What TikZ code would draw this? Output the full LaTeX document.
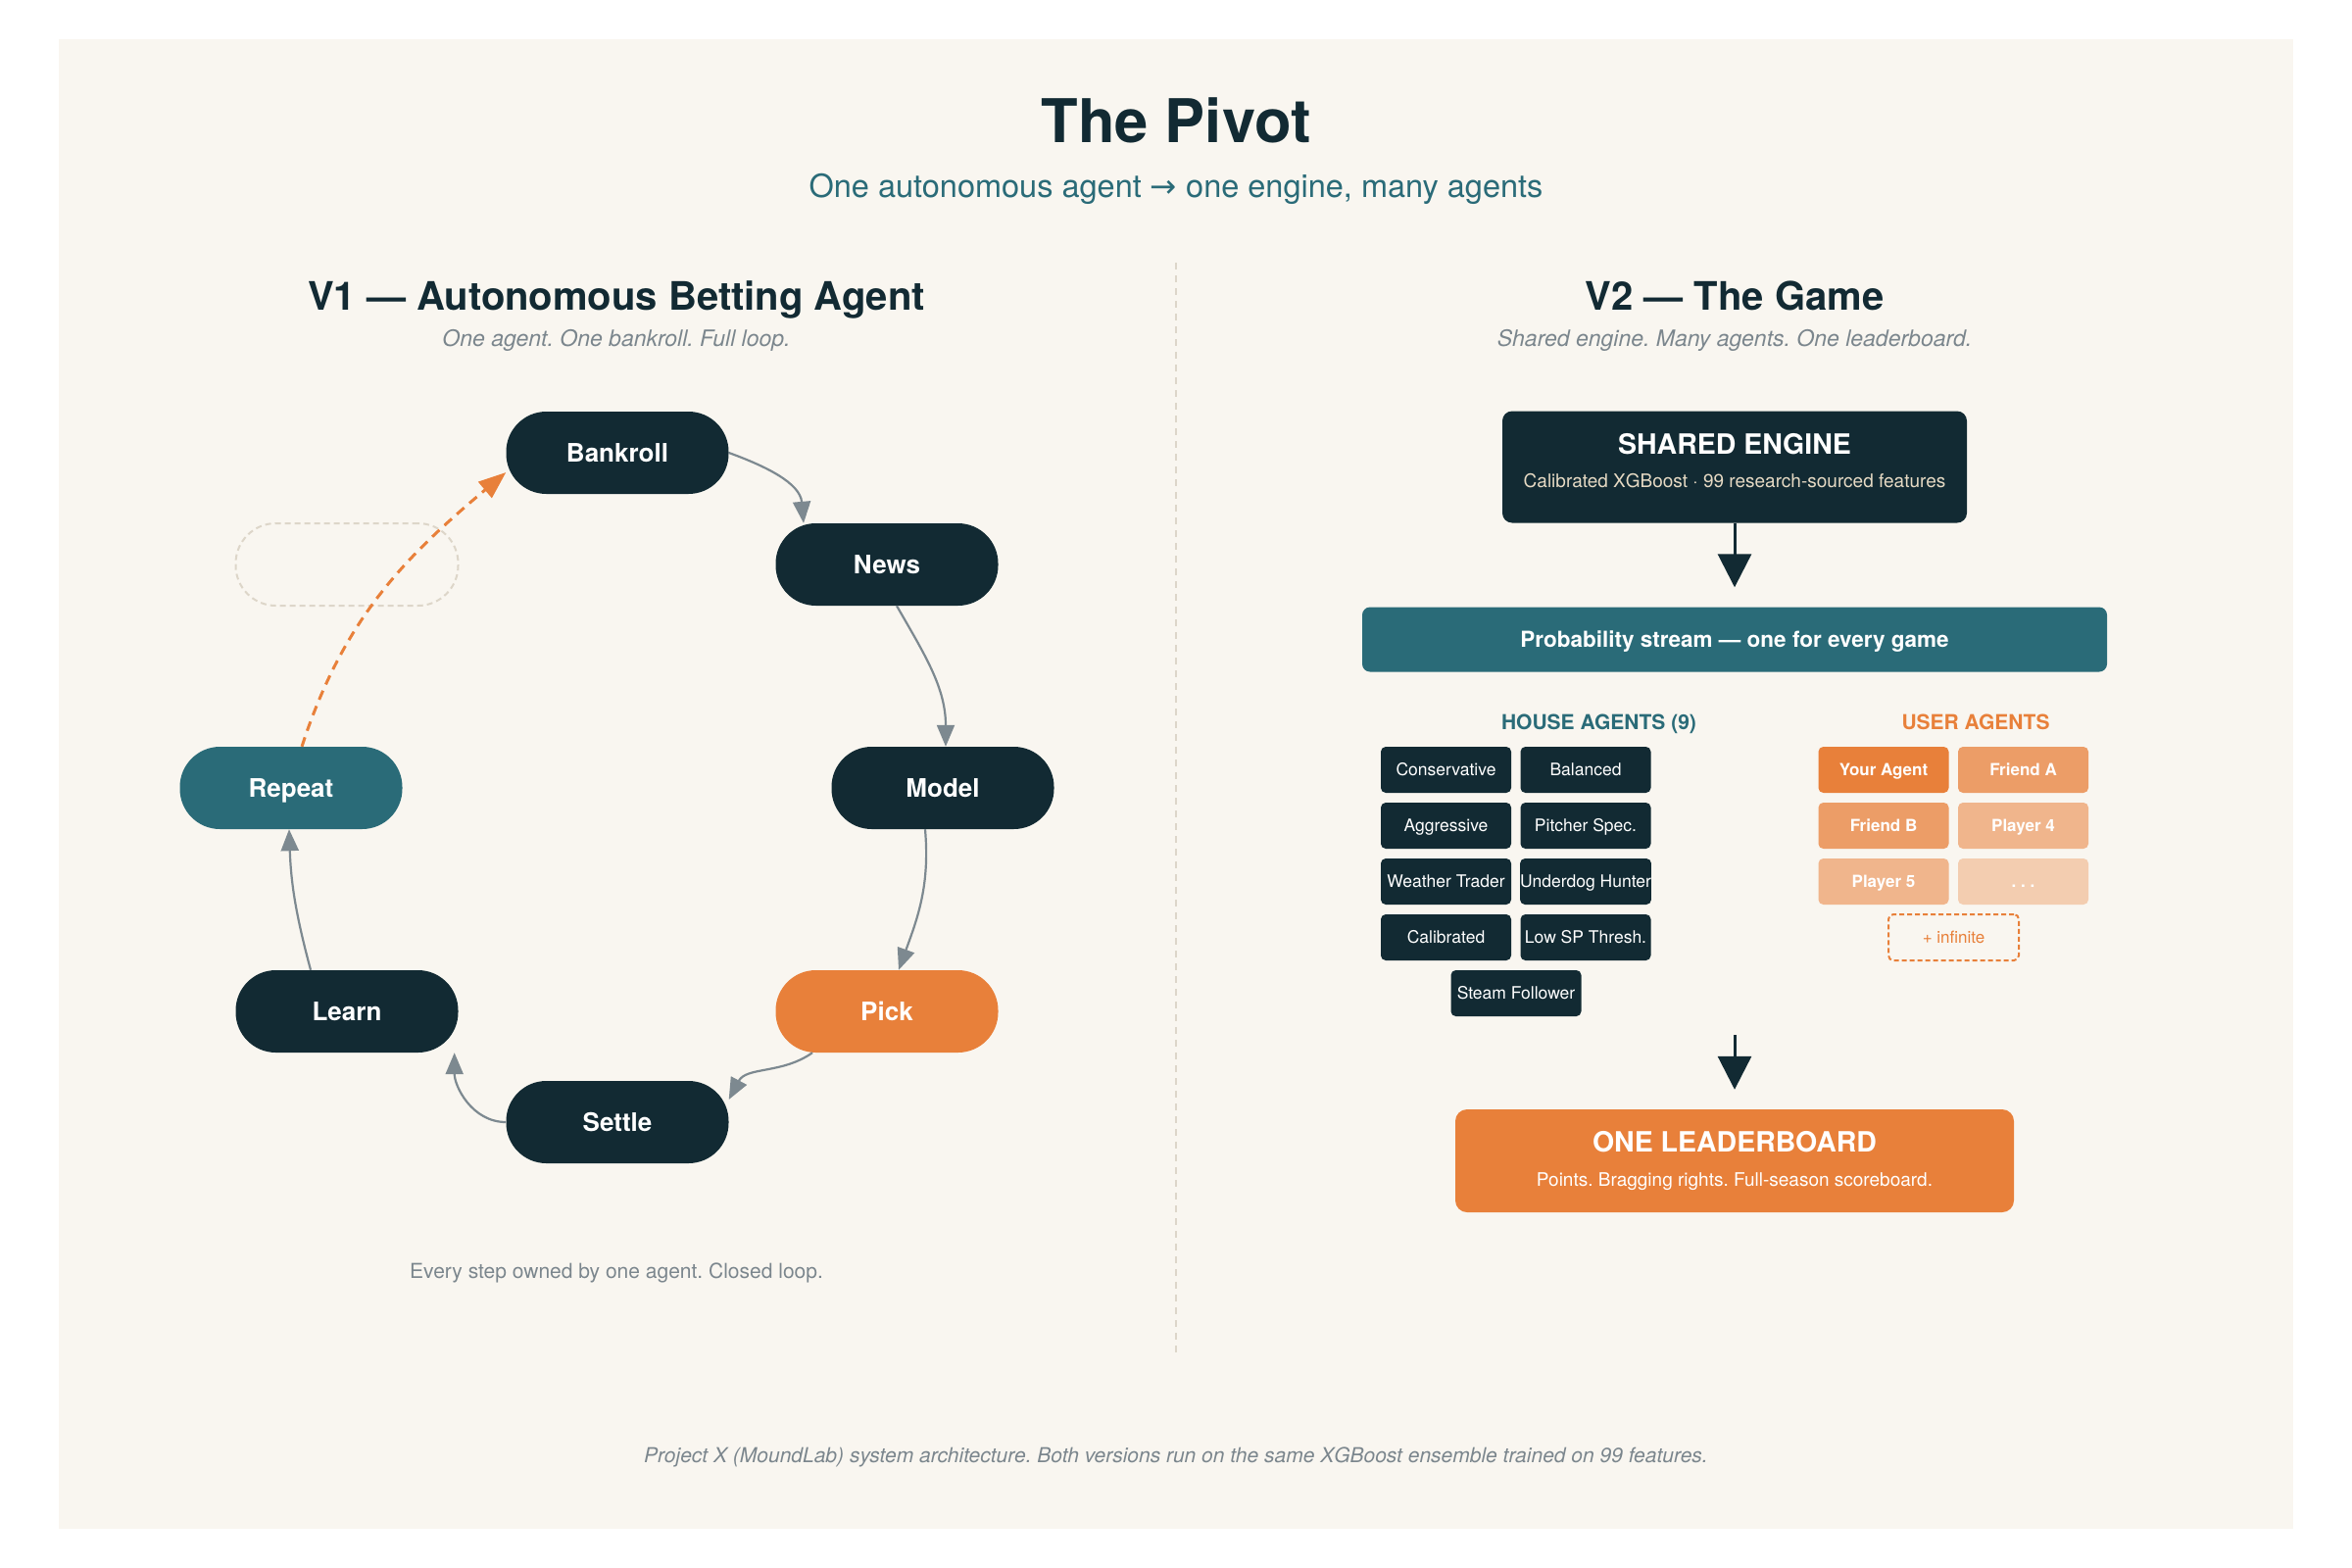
\documentclass[tikz,border=0pt]{standalone}
\usepackage{fontspec}
\setmainfont{TeX Gyre Heros}
\newfontfamily\symfont{DejaVu Sans}
\usetikzlibrary{arrows.meta,calc}
\frenchspacing
\definecolor{cNavy}{HTML}{122A33}
\definecolor{cTeal}{HTML}{2A6B78}
\definecolor{cOrange}{HTML}{E8803A}
\definecolor{cGrey}{HTML}{7B868D}
\definecolor{cEdge}{HTML}{7D8990}
\definecolor{cBg}{HTML}{F9F6F0}
\definecolor{cLine}{HTML}{DDD6C9}
\definecolor{cCream}{HTML}{E6DAC4}
\tikzset{
  loopnode/.style={rounded corners=41pt, minimum width=227pt, minimum height=84pt, inner sep=0pt,
    text=white, font=\fontsize{26}{30}\selectfont\bfseries, fill=cNavy, text depth=0pt},
  loopedge/.style={draw=cEdge, line width=2.2pt, -{Triangle[length=22pt,width=18pt]}},
  backedge/.style={draw=cOrange, line width=3pt, dash pattern=on 10pt off 7pt,
    -{Triangle[length=28pt,width=21pt]}},
  bigarrow/.style={draw=cNavy, line width=3pt, -{Triangle[length=34pt,width=34pt]}},
  agentbox/.style={fill=cNavy, rounded corners=5pt, minimum width=133pt, minimum height=47pt,
    inner sep=0pt, text=white, font=\fontsize{17.5}{20}\selectfont, text height=12.5pt, text depth=0pt},
  userbox/.style={rounded corners=5pt, minimum width=133pt, minimum height=47pt,
    inner sep=0pt, text=white, font=\fontsize{17}{20}\selectfont\bfseries, text height=12.5pt, text depth=0pt},
  txt/.style={anchor=base, inner sep=0pt},
}
\begin{document}
\begin{tikzpicture}[x=1pt,y=1pt]
\useasboundingbox (0,0) rectangle (2400,-1600);
\fill[white] (0,0) rectangle (2400,-1600);
\fill[cBg] (60,-40) rectangle (2340,-1560);

% titles
\node[txt, font=\fontsize{61.5}{70}\selectfont\bfseries, text=cNavy] (title) at (1200,-146) {The Pivot};
\node[txt, font=\fontsize{32.5}{36}\selectfont, text=cTeal] (subtitle) at (1200,-201)
  {One autonomous agent {\symfont →} one engine, many agents};

% divider
\draw[cLine, line width=2pt, dash pattern=on 7pt off 6pt] (1200,-268) -- (1200,-1385);

% V1
\node[txt, font=\fontsize{40}{46}\selectfont\bfseries, text=cNavy] (v1head) at (629,-316) {V1 — Autonomous Betting Agent};
\node[txt, font=\fontsize{23}{26}\selectfont\itshape, text=cGrey] (v1sub) at (629,-353) {One agent. One bankroll. Full loop.};

\node[loopnode] (bk) at (630,-462) {Bankroll};
\node[loopnode] (news) at (905,-576) {News};
\node[loopnode] (model) at (962,-804) {Model};
\node[loopnode, fill=cOrange] (pick) at (905,-1032) {Pick};
\node[loopnode] (settle) at (630,-1145) {Settle};
\node[loopnode] (learn) at (354,-1032) {Learn};
\node[loopnode, fill=cTeal] (repeat) at (297,-804) {Repeat};
\node[rounded corners=41pt, minimum width=227pt, minimum height=84pt, inner sep=0pt,
  draw=cLine, line width=2pt, dash pattern=on 6pt off 4pt] (ghost) at (354,-576) {};

\draw[loopedge] (bk.east) to[out=-20,in=95] ([xshift=-85pt]news.north);
\draw[loopedge] ([xshift=10pt]news.south) to[out=-60,in=90] ([xshift=3pt]model.north);
\draw[loopedge] ([xshift=-18pt]model.south) to[out=-85,in=70] ([xshift=12pt]pick.north);
\draw[loopedge] ([xshift=-76pt]pick.south) to[out=-145,in=62] ([yshift=23pt]settle.east);
\draw[loopedge] (settle.west) to[out=180,in=-90] ([xshift=-4pt]learn.south east);
\draw[loopedge] ([xshift=-37pt]learn.north) to[out=105,in=-88] ([xshift=-2pt]repeat.south);
\draw[backedge] ([xshift=11pt]repeat.north) to[out=72,in=-140] ([yshift=-20pt]bk.west);

\node[txt, font=\fontsize{21}{24}\selectfont, text=cGrey] (v1foot) at (629,-1304) {Every step owned by one agent. Closed loop.};

% V2
\node[txt, font=\fontsize{40}{46}\selectfont\bfseries, text=cNavy] (v2head) at (1770,-316) {V2 — The Game};
\node[txt, font=\fontsize{23}{26}\selectfont\itshape, text=cGrey] (v2sub) at (1770,-353) {Shared engine. Many agents. One leaderboard.};

\node[fill=cNavy, rounded corners=10pt, minimum width=474pt, minimum height=114pt, inner sep=0pt] (engine) at (1770,-476.5) {};
\node[txt, font=\fontsize{28.5}{30}\selectfont\bfseries, text=white] (engtitle) at (1770,-463) {SHARED ENGINE};
\node[txt, font=\fontsize{19}{22}\selectfont, text=cCream] (engsub) at (1770,-497) {Calibrated XGBoost · 99 research-sourced features};

\node[fill=cTeal, rounded corners=8pt, minimum width=760pt, minimum height=66pt, inner sep=0pt] (prob) at (1770,-652.5) {};
\node[txt, font=\fontsize{22.5}{25}\selectfont\bfseries, text=white] (probtxt) at (1770,-660) {Probability stream — one for every game};

\draw[bigarrow] (engine.south) -- ([yshift=20pt]prob.north);

\node[txt, font=\fontsize{21}{24}\selectfont\bfseries, text=cTeal] (househead) at (1631.5,-744) {HOUSE AGENTS (9)};
\node[txt, font=\fontsize{21}{24}\selectfont\bfseries, text=cOrange] (userhead) at (2016,-744) {USER AGENTS};

\node[agentbox] (a1) at (1475.5,-785.5) {Conservative};
\node[agentbox] (a2) at (1618,-785.5) {Balanced};
\node[agentbox] (a3) at (1475.5,-842.5) {Aggressive};
\node[agentbox] (a4) at (1618,-842.5) {Pitcher Spec.};
\node[agentbox] (a5) at (1475.5,-899.5) {Weather Trader};
\node[agentbox] (a6) at (1618,-899.5) {Underdog Hunter};
\node[agentbox] (a7) at (1475.5,-956.5) {Calibrated};
\node[agentbox] (a8) at (1618,-956.5) {Low SP Thresh.};
\node[agentbox] (a9) at (1547,-1013.5) {Steam Follower};

\node[userbox, fill=cOrange] (u1) at (1922,-785.5) {Your Agent};
\node[userbox, fill=cOrange!75!cBg] (u2) at (2064.5,-785.5) {Friend A};
\node[userbox, fill=cOrange!75!cBg] (u3) at (1922,-842.5) {Friend B};
\node[userbox, fill=cOrange!55!cBg] (u4) at (2064.5,-842.5) {Player 4};
\node[userbox, fill=cOrange!55!cBg] (u5) at (1922,-899.5) {Player 5};
\node[userbox, fill=cOrange!35!cBg] (u6) at (2064.5,-899.5) {. . .};
\node[rounded corners=5pt, minimum width=133pt, minimum height=47pt, inner sep=0pt,
  draw=cOrange, line width=2pt, dash pattern=on 5pt off 3pt, text=cOrange,
  font=\fontsize{17}{20}\selectfont, text height=12.5pt, text depth=0pt] (uinf) at (1993.5,-956.5) {+ infinite};

\coordinate (agentsout) at (1770,-1056);
\node[fill=cOrange, rounded corners=12pt, minimum width=570pt, minimum height=105pt, inner sep=0pt] (lead) at (1770,-1184.5) {};
\node[txt, font=\fontsize{28.5}{32}\selectfont\bfseries, text=white] (leadtitle) at (1770,-1175) {ONE LEADERBOARD};
\node[txt, font=\fontsize{19}{22}\selectfont, text=white] (leadsub) at (1770,-1210) {Points. Bragging rights. Full-season scoreboard.};
\draw[bigarrow] (agentsout) -- ([yshift=20pt]lead.north);

% footer
\node[txt, font=\fontsize{21}{24}\selectfont\itshape, text=cGrey] (footer) at (1200,-1492)
  {Project X (MoundLab) system architecture. Both versions run on the same XGBoost ensemble trained on 99 features.};
\end{tikzpicture}
\end{document}
